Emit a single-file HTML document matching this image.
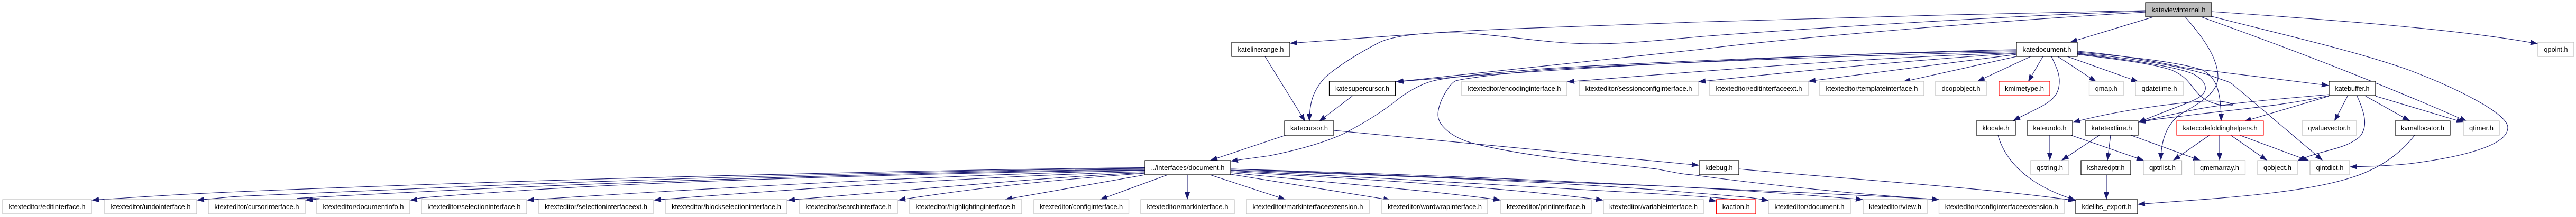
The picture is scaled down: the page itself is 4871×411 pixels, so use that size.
<!DOCTYPE html>
<html>
<head>
<meta charset="utf-8">
<style>
html,body{margin:0;padding:0;background:#fff;width:4871px;height:411px;overflow:hidden}
svg{display:block}
text{font-family:"Liberation Sans",sans-serif;font-size:13.33px;fill:#000;text-anchor:middle}
.e path{fill:none;stroke:#191970;stroke-width:1.1;marker-end:url(#a)}
.b{fill:#fff;stroke:#000;stroke-width:1.2}
.g{fill:#fff;stroke:#bfbfbf;stroke-width:1.2}
.r{fill:#fff;stroke:#f00;stroke-width:1.2}
.t{fill:#bfbfbf;stroke:#000;stroke-width:1.2}
</style>
</head>
<body>
<svg xmlns="http://www.w3.org/2000/svg" width="4871" height="411" viewBox="0 0 4871 411">
<defs>
<marker id="a" markerUnits="userSpaceOnUse" markerWidth="14" markerHeight="10" refX="14" refY="5" orient="auto">
<path d="M0 0L14 5L0 10Z" fill="#191970"/>
</marker>
</defs>
<rect width="4871" height="411" fill="#fff"/>
<g class="e">
<path d="M2165 317.5C1900 320 1300 332 820 349S350 368 173 379"/>
<path d="M2165 319C1900 321 1300 335 820 356S500 368 372 379"/>
<path d="M2165 320.5C1900 323 1300 338 820 362S700 370 577 379"/>
<path d="M2165 322C1900 325 1300 340 1000 360S820 375 775 379"/>
<path d="M2165 323C1900 327 1400 352 996 379"/>
<path d="M2165 325C1950 331 1600 350 1236 379"/>
<path d="M2165 327C1980 335 1750 358 1489 379"/>
<path d="M2165 328C2000 340 1850 355 1698 379"/>
<path d="M2165 331L1900 378"/>
<path d="M2208 331L2080 378"/>
<path d="M2245 331L2245 378"/>
<path d="M2288 331L2431 378"/>
<path d="M2327 330L2630 379"/>
<path d="M2327 327C2500 345 2700 360 2838 379"/>
<path d="M2327 325C2500 335 2800 350 3032 379"/>
<path d="M2327 323C2600 337 2900 352 3150 368S3230 378 3246 381"/>
<path d="M2327 322C2700 335 2950 345 3150 361S3300 373 3345 380"/>
<path d="M2327 320C2700 333 3000 345 3150 352.7S3400 368 3523 378"/>
<path d="M2327 320C2700 331 3000 345 3150 352.7S3500 368 3667 378"/>
<path d="M3813 94C3500 100 3000 125 2640 155"/>
<path d="M3813 96C3500 100 3050 122 2920 130C2830 138 2740 145 2707 154C2685 160 2660 175 2642 189C2610 215 2570 238 2541 253C2500 272 2450 285 2400 295L2327 305"/>
<path d="M3813 98C3500 104 3050 124 2920 132C2840 140 2770 148 2753 153C2745 156 2735 170 2726 189C2715 215 2718 228 2729 240C2745 258 2770 268 2792 273C2900 300 3050 310 3132 320C3160 325 3180 330 3200 331C3300 345 3500 368 3667 378"/>
<path d="M3813 100C3500 110 3200 137 2963 155"/>
<path d="M3813 101C3600 115 3400 135 3211 155"/>
<path d="M3813 103L3419 154"/>
<path d="M3813 107L3598 155"/>
<path d="M3840 107L3739 154"/>
<path d="M3863 107L3835 155"/>
<path d="M3879 107C3890 130 3897 145 3893 165C3888 195 3850 205 3806 229"/>
<path d="M3891 107L3964 155"/>
<path d="M3909 107L4044 155"/>
<path d="M3928 97C4000 103 4070 115 4130 128L4404 162"/>
<path d="M3928 99C4000 105 4110 115 4163 132C4190 145 4200 170 4200 230"/>
<path d="M3928 101C4040 110 4140 128 4194 148C4205 153 4213 153 4222 160L4392 304"/>
<path d="M3928 102C4020 112 4110 125 4147 140C4165 150 4172 160 4170 170C4165 190 4130 195 4043 232"/>
<path d="M3928 103C4000 112 4070 120 4107 133C4130 143 4137 153 4150 170C4165 190 4185 198 4210 200C4222 201 4225 198 4218 196C4205 191 4180 190 4150 193C4100 197 4000 210 3919 232"/>
<path d="M4132 32C4160 65 4193 105 4194 145C4195 175 4160 195 4125 215C4095 235 4086 270 4086 304"/>
<path d="M4404 179C4330 186 4200 195 4130 212C4100 218 4070 225 4043 232"/>
<path d="M4404 181C4330 198 4250 205 4150 217C4110 222 4070 226 4043 232"/>
<path d="M4404 182L4243 230"/>
<path d="M4439 182L4414 230"/>
<path d="M4457 182C4470 210 4480 240 4461 260C4430 285 4390 283 4344 305"/>
<path d="M4473 182L4557 229"/>
<path d="M4492 182L4659 232"/>
<path d="M4162 32Q4450 135 4665 230"/>
<path d="M4182 31C4300 62 4450 95 4556 133C4640 165 4745 215 4742 243C4740 275 4660 297 4556 310C4520 314 4480 315 4443 316"/>
<path d="M4182 22C4400 37 4650 55 4799 83"/>
<path d="M4057 20C3800 25 3400 35 3200 42C3000 50 2800 55 2703 63L2439 82"/>
<path d="M4057 21C3800 30 3400 55 3220 69C3150 75 3080 83 3012 83C2920 83 2820 62 2740 62C2680 62 2630 70 2609 80C2570 100 2530 125 2505 147C2485 170 2476 190 2476 230"/>
<path d="M4057 23C3800 38 3400 70 3220 93L2639 155"/>
<path d="M4072 32L3914 80"/>
<path d="M2392 107L2468 230"/>
<path d="M2557 182L2494 230"/>
<path d="M2431 256L2288 304"/>
<path d="M2522 247L3213 313"/>
<path d="M3288 320C3500 340 3750 355 3925 380"/>
<path d="M3778 256C3790 300 3830 350 3925 379"/>
<path d="M3876 256L3876 304"/>
<path d="M3970 256L3898 304"/>
<path d="M3991 256L3985 304"/>
<path d="M3916 256L4054 304"/>
<path d="M4029 256L4161 304"/>
<path d="M3983 331L3983 378"/>
<path d="M4566 256C4540 290 4500 320 4444 337C4340 370 4150 378 4042 387"/>
<path d="M4178 256L4109 304"/>
<path d="M4197 256L4197 304"/>
<path d="M4218 256L4287 304"/>
<path d="M4235 256L4367 305"/>
</g>

<rect class="t" x="4057" y="5" width="125" height="27"/><text x="4119.5" y="23" textLength="102" lengthAdjust="spacingAndGlyphs">kateviewinternal.h</text>

<rect class="b" x="2329" y="80" width="110" height="27"/><text x="2384" y="98" textLength="87" lengthAdjust="spacingAndGlyphs">katelinerange.h</text>
<rect class="b" x="3813" y="80" width="115" height="27"/><text x="3870.5" y="98" textLength="92" lengthAdjust="spacingAndGlyphs">katedocument.h</text>
<rect class="g" x="4799" y="80" width="68" height="27"/><text x="4833" y="98" textLength="45" lengthAdjust="spacingAndGlyphs">qpoint.h</text>

<rect class="b" x="2513.5" y="154" width="125" height="27"/><text x="2576" y="172" textLength="102" lengthAdjust="spacingAndGlyphs">katesupercursor.h</text>
<rect class="g" x="2764" y="154" width="199" height="27"/><text x="2863.5" y="172" textLength="176" lengthAdjust="spacingAndGlyphs">ktexteditor/encodinginterface.h</text>
<rect class="g" x="2986" y="154" width="225" height="27"/><text x="3098.5" y="172" textLength="202" lengthAdjust="spacingAndGlyphs">ktexteditor/sessionconfiginterface.h</text>
<rect class="g" x="3233" y="154" width="186" height="27"/><text x="3326" y="172" textLength="163" lengthAdjust="spacingAndGlyphs">ktexteditor/editinterfaceext.h</text>
<rect class="g" x="3441" y="154" width="197" height="27"/><text x="3539.5" y="172" textLength="174" lengthAdjust="spacingAndGlyphs">ktexteditor/templateinterface.h</text>
<rect class="g" x="3660" y="154" width="96" height="27"/><text x="3708" y="172" textLength="73" lengthAdjust="spacingAndGlyphs">dcopobject.h</text>
<rect class="r" x="3780" y="154" width="96" height="27"/><text x="3828" y="172" textLength="74" lengthAdjust="spacingAndGlyphs">kmimetype.h</text>
<rect class="g" x="3950.5" y="154" width="64.5" height="27"/><text x="3982.7" y="172" textLength="42" lengthAdjust="spacingAndGlyphs">qmap.h</text>
<rect class="g" x="4038" y="154" width="90" height="27"/><text x="4083" y="172" textLength="67" lengthAdjust="spacingAndGlyphs">qdatetime.h</text>
<rect class="b" x="4404" y="154" width="88" height="27"/><text x="4448" y="172" textLength="65" lengthAdjust="spacingAndGlyphs">katebuffer.h</text>

<rect class="b" x="2429" y="229" width="93" height="27"/><text x="2475.5" y="247" textLength="71" lengthAdjust="spacingAndGlyphs">katecursor.h</text>
<rect class="b" x="3737" y="229" width="74" height="27"/><text x="3774" y="247" textLength="51" lengthAdjust="spacingAndGlyphs">klocale.h</text>
<rect class="b" x="3833" y="229" width="86" height="27"/><text x="3876" y="247" textLength="63" lengthAdjust="spacingAndGlyphs">kateundo.h</text>
<rect class="b" x="3943" y="229" width="100" height="27"/><text x="3993" y="247" textLength="77" lengthAdjust="spacingAndGlyphs">katetextline.h</text>
<rect class="r" x="4116" y="229" width="164" height="27"/><text x="4198" y="247" textLength="141" lengthAdjust="spacingAndGlyphs">katecodefoldinghelpers.h</text>
<rect class="g" x="4353" y="229" width="103" height="27"/><text x="4404.5" y="247" textLength="80" lengthAdjust="spacingAndGlyphs">qvaluevector.h</text>
<rect class="b" x="4529" y="229" width="104" height="27"/><text x="4581" y="247" textLength="82" lengthAdjust="spacingAndGlyphs">kvmallocator.h</text>
<rect class="g" x="4658" y="229" width="68" height="27"/><text x="4692" y="247" textLength="46" lengthAdjust="spacingAndGlyphs">qtimer.h</text>

<rect class="b" x="2165" y="304" width="162" height="27"/><text x="2246" y="322" textLength="139" lengthAdjust="spacingAndGlyphs">../interfaces/document.h</text>
<rect class="b" x="3213" y="304" width="75" height="27"/><text x="3250.5" y="322" textLength="52" lengthAdjust="spacingAndGlyphs">kdebug.h</text>
<rect class="g" x="3840" y="304" width="72" height="27"/><text x="3876" y="322" textLength="50" lengthAdjust="spacingAndGlyphs">qstring.h</text>
<rect class="b" x="3935" y="304" width="94" height="27"/><text x="3982" y="322" textLength="71" lengthAdjust="spacingAndGlyphs">ksharedptr.h</text>
<rect class="g" x="4053" y="304" width="72.5" height="27"/><text x="4089" y="322" textLength="50" lengthAdjust="spacingAndGlyphs">qptrlist.h</text>
<rect class="g" x="4149" y="304" width="96.5" height="27"/><text x="4197" y="322" textLength="74" lengthAdjust="spacingAndGlyphs">qmemarray.h</text>
<rect class="g" x="4269" y="304" width="75" height="27"/><text x="4306.5" y="322" textLength="53" lengthAdjust="spacingAndGlyphs">qobject.h</text>
<rect class="g" x="4368" y="304" width="75" height="27"/><text x="4405.5" y="322" textLength="52" lengthAdjust="spacingAndGlyphs">qintdict.h</text>

<rect class="g" x="5" y="378" width="168" height="27"/><text x="89" y="396" textLength="145" lengthAdjust="spacingAndGlyphs">ktexteditor/editinterface.h</text>
<rect class="g" x="198" y="378" width="174" height="27"/><text x="285" y="396" textLength="151" lengthAdjust="spacingAndGlyphs">ktexteditor/undointerface.h</text>
<rect class="g" x="394" y="378" width="183" height="27"/><text x="485.5" y="396" textLength="160" lengthAdjust="spacingAndGlyphs">ktexteditor/cursorinterface.h</text>
<rect class="g" x="599" y="378" width="176" height="27"/><text x="687" y="396" textLength="153" lengthAdjust="spacingAndGlyphs">ktexteditor/documentinfo.h</text>
<rect class="g" x="797" y="378" width="199" height="27"/><text x="896.5" y="396" textLength="176" lengthAdjust="spacingAndGlyphs">ktexteditor/selectioninterface.h</text>
<rect class="g" x="1019" y="378" width="216" height="27"/><text x="1127" y="396" textLength="194" lengthAdjust="spacingAndGlyphs">ktexteditor/selectioninterfaceext.h</text>
<rect class="g" x="1259" y="378" width="229" height="27"/><text x="1373.5" y="396" textLength="207" lengthAdjust="spacingAndGlyphs">ktexteditor/blockselectioninterface.h</text>
<rect class="g" x="1512" y="378" width="185" height="27"/><text x="1604.5" y="396" textLength="162" lengthAdjust="spacingAndGlyphs">ktexteditor/searchinterface.h</text>
<rect class="g" x="1720" y="378" width="212" height="27"/><text x="1826" y="396" textLength="189" lengthAdjust="spacingAndGlyphs">ktexteditor/highlightinginterface.h</text>
<rect class="g" x="1955" y="378" width="179.5" height="27"/><text x="2044.7" y="396" textLength="157" lengthAdjust="spacingAndGlyphs">ktexteditor/configinterface.h</text>
<rect class="g" x="2157" y="378" width="177" height="27"/><text x="2245.5" y="396" textLength="154" lengthAdjust="spacingAndGlyphs">ktexteditor/markinterface.h</text>
<rect class="g" x="2357" y="378" width="232" height="27"/><text x="2473" y="396" textLength="209" lengthAdjust="spacingAndGlyphs">ktexteditor/markinterfaceextension.h</text>
<rect class="g" x="2613" y="378" width="200" height="27"/><text x="2713" y="396" textLength="178" lengthAdjust="spacingAndGlyphs">ktexteditor/wordwrapinterface.h</text>
<rect class="g" x="2838" y="378" width="171" height="27"/><text x="2923.5" y="396" textLength="149" lengthAdjust="spacingAndGlyphs">ktexteditor/printinterface.h</text>
<rect class="g" x="3032" y="378" width="189" height="27"/><text x="3126.5" y="396" textLength="167" lengthAdjust="spacingAndGlyphs">ktexteditor/variableinterface.h</text>
<rect class="r" x="3245.5" y="378" width="74.5" height="27"/><text x="3282.7" y="396" textLength="52" lengthAdjust="spacingAndGlyphs">kaction.h</text>
<rect class="g" x="3344" y="378" width="155" height="27"/><text x="3421.5" y="396" textLength="132" lengthAdjust="spacingAndGlyphs">ktexteditor/document.h</text>
<rect class="g" x="3523" y="378" width="121" height="27"/><text x="3583.5" y="396" textLength="99" lengthAdjust="spacingAndGlyphs">ktexteditor/view.h</text>
<rect class="g" x="3666.5" y="378" width="236.5" height="27"/><text x="3784.7" y="396" textLength="214" lengthAdjust="spacingAndGlyphs">ktexteditor/configinterfaceextension.h</text>
<rect class="b" x="3925" y="378" width="117" height="27"/><text x="3983.5" y="396" textLength="94" lengthAdjust="spacingAndGlyphs">kdelibs_export.h</text>
</svg>
</body>
</html>
